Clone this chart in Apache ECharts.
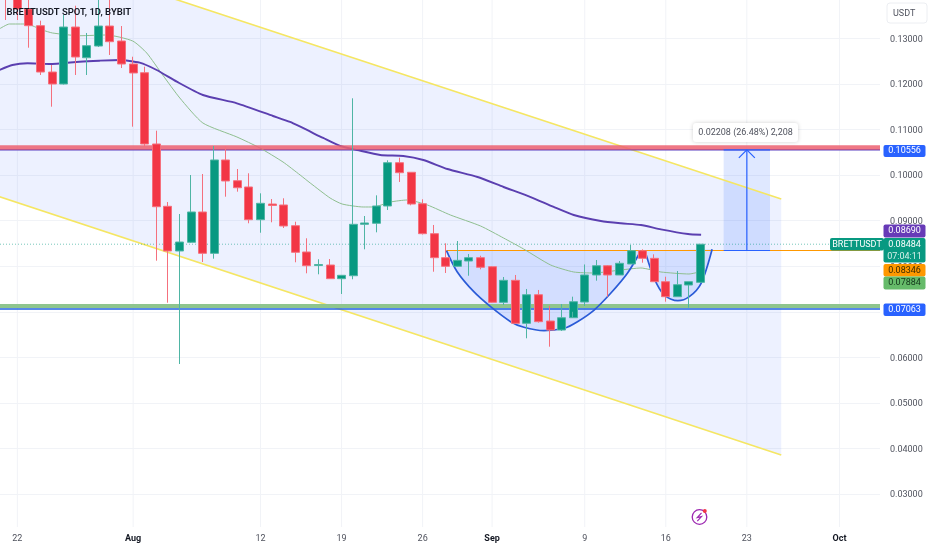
<!DOCTYPE html>
<html>
<head>
<meta charset="utf-8">
<style>html,body{margin:0;padding:0;background:#fff}#c{width:932px;height:550px}</style>
<script src="https://cdn.jsdelivr.net/npm/echarts@6/dist/echarts.min.js"></script>
</head>
<body>
<div id="c"></div>
<script>
// ---------- data ----------
const startDay = -11;            // day offset (Jul 21) relative to Aug 1
const dayCount = 76;             // Jul 21 .. Oct 4
const tickIndex = [1, 11, 22, 29, 36, 42, 50, 57, 64, 72];
const tickLabels = ['22', 'Aug', '12', '19', '26', 'Sep', '9', '16', '23', 'Oct'];
const monthLabels = ['Aug', 'Sep', 'Oct'];
const priceTicks = [0.03, 0.04, 0.05, 0.06, 0.07, 0.08, 0.09, 0.10, 0.11, 0.12, 0.13];

// [open, close, low, high], first entry is Jul 21
const candles = [
[.14284,.13955,.13406,.1435],[.13955,.13648,.13406,.1405],[.13648,.13281,.12798,.1389],
[.13281,.12264,.12199,.13391],[.12264,.12001,.11503,.12418],[.12001,.13252,.1199,.13516],
[.13252,.12594,.12199,.1372],[.12578,.12842,.12199,.13121],[.12835,.13274,.12813,.139],
[.13274,.1293,.12638,.1389],[.12945,.1244,.12352,.13274],[.1244,.12243,.11064,.126],
[.12249,.10684,.10618,.12381],[.10684,.09307,.08122,.10976],[.09316,.08335,.072,.0941],
[.08335,.08532,.05854,.09147],[.08526,.09191,.0851,.10003],[.09191,.08284,.08093,.10025],
[.08284,.10333,.08166,.1064],[.10333,.09872,.09527,.1064],[.09878,.09724,.09637,.10135],
[.0974,.09022,.08943,.10041],[.09022,.09382,.08736,.09601],[.09366,.09334,.08965,.09476],
[.09345,.08884,.0884,.09492],[.0889,.08306,.08087,.08978],[.08313,.08012,.07845,.08614],
[.08016,.08038,.07823,.08153],[.08027,.07727,.0772,.08159],[.07727,.07801,.07391,.07808],
[.07792,.08921,.07714,.11687],[.08921,.0895,.08372,.09103],[.08943,.09323,.08745,.09557],
[.09323,.10273,.09235,.10326],[.10273,.10054,.0985,.10383],[.10063,.09366,.09338,.10069],
[.09373,.08715,.08697,.0947],[.08715,.08188,.0788,.08906],[.08188,.07999,.07852,.08504],
[.07999,.0813,.0799,.08554],[.08115,.08188,.07792,.08269],[.08188,.07977,.07933,.08231],
[.0799,.07208,.07193,.08005],[.07208,.07691,.07149,.07764],[.07691,.06747,.06732,.07808],
[.06747,.07375,.06418,.07501],[.07375,.06783,.06761,.07479],[.06798,.066,.06234,.07134],
[.066,.0687,.06579,.07171],[.0687,.07222,.07,.07332],[.07215,.07808,.07127,.08039],
[.07808,.08012,.07683,.08137],[.08012,.07808,.07332,.08027],[.07808,.08065,.07808,.08115],
[.0805,.08341,.0805,.08466],[.08341,.08174,.08078,.08372],[.08174,.07661,.07654,.08262],
[.07661,.07332,.07222,.0777],[.07332,.07595,.07325,.07896],[.07588,.07661,.0709,.07661],
[.07647,.08484,.07632,.08484]
];

const slowMaDays = [-11.56,-10.43,-9.13,-7.23,-4.63,-2.9,-1.17,.56,2.03,3.77,6.02,8.96,12.08,13.55,16.41,17.88,19.35,21.34,23.33,25.06,27.14,29.74,31.99,34.33,36.32,38.05,40.39,42.12,43.85,45.58,47.92,49.05];
const slowMaValues = [.12308,.12418,.12455,.1244,.12491,.12513,.12528,.12469,.12308,.12052,.1176,.11577,.11299,.11167,.10816,.1064,.10552,.10442,.1042,.10333,.10135,.09959,.0974,.0952,.09301,.09125,.08993,.08943,.08906,.08811,.08708,.0869];
const fastMaDays = [-11.56,-10.69,-9.22,-7.84,-6.97,-4.63,-2.29,-.04,1.17,2.55,4.03,6.02,8.96,10.95,12.94,14.42,15.29,17.01,18.05,19.87,20.74,22.21,23.68,25.41,27.4,30,31.99,33.72,36.06,38.05,39.78,42.12,43.85,45.58,48,49.05];
const fastMaValues = [.13209,.13318,.13318,.13187,.13121,.13061,.13077,.12945,.12682,.12199,.11694,.11145,.10838,.10596,.10289,.10003,.09828,.09498,.09366,.09301,.09301,.0941,.09455,.09345,.09125,.08884,.0862,.08379,.08027,.07874,.07852,.07918,.07962,.07874,.0783,.07884];

const cupDays = [27.06,27.98,29.42,30.87,32.6,33.75,35.48,37.21,38.37,39.81,41.26,42.7,43.85];
const cupValues = [.08341,.0788,.07441,.07112,.06783,.0666,.06585,.06638,.06783,.07039,.07413,.07852,.08341];
const handleDays = [44.2,45,45.87,47.03,48.03,49.05,50];
const handleValues = [.08341,.07735,.07369,.07244,.07332,.07626,.08372];

const channelTopDays = [-11.56, 55.97];
const channelTopValues = [.15136, .09476];
const channelBottomDays = [-11.56, 55.97];
const channelBottomValues = [.09527, .03856];

const lastPrice = 0.08484;
const resistance = 0.10556;
const resistanceBand = 0.10607;
const support = 0.07063;
const supportBand = 0.07127;
const neckline = 0.08346;
const necklineStartDay = 27.06;
const measureStartDay = 51;
const measureEndDay = 55;
const measureArrowDay = 53;
const axisEndDay = 64.5;
const axisStartDay = -11.5;

const measureText = '0.02208 (26.48%) 2,208';
const chartTitle = 'BRETTUSDT SPOT, 1D, BYBIT';
const currencyText = 'USDT';
const symbolText = 'BRETTUSDT';
const countdownText = '07:04:11';

// ---------- drawing ----------
const FONT = 'Roboto';
const GREEN = '#089981', RED = '#f23645', BLUE = '#2962ff', YELLOW = '#f5e663', ORANGE = '#ff9800';
const PURPLE = '#5b3fb0';

const cats = [];
for (let i = 0; i < dayCount; i++) cats.push(String(i + startDay));

function line(xs, ys, color, width, z, extra) {
  return Object.assign({
    type: 'line', xAxisIndex: 1, yAxisIndex: 0, data: xs.map((x, i) => [x, ys[i]]),
    showSymbol: false, symbol: 'none', silent: true, animation: false, z: z,
    lineStyle: { color: color, width: width }
  }, extra || {});
}
function poly(xs, ys, fill, z) {
  return {
    type: 'custom', xAxisIndex: 1, yAxisIndex: 0, data: [[xs[0], ys[0]]], z: z, silent: true,
    animation: false, clip: true,
    renderItem: (p, api) => ({
      type: 'polygon',
      shape: { points: xs.map((x, i) => api.coord([x, ys[i]])) },
      style: { fill: fill }
    })
  };
}

const series = [
  // vertical grid lines at labelled days
  {
    type: 'custom', xAxisIndex: 1, yAxisIndex: 0, z: 0, silent: true, animation: false,
    data: tickIndex.map(i => [i + startDay, 0]),
    renderItem: (p, api) => {
      const a = api.coord([api.value(0), 0.14]), b = api.coord([api.value(0), 0.02]);
      return { type: 'line', shape: { x1: a[0], y1: a[1], x2: b[0], y2: b[1] }, style: { stroke: '#f1f3f7', lineWidth: 1 } };
    }
  },
  poly(channelTopDays.concat(channelBottomDays.slice().reverse()),
       channelTopValues.concat(channelBottomValues.slice().reverse()), 'rgba(41,98,255,0.085)', 1),
  poly(cupDays, cupValues, 'rgba(41,98,255,0.13)', 2),
  poly(handleDays, handleValues, 'rgba(41,98,255,0.13)', 2),
  poly([measureStartDay, measureEndDay, measureEndDay, measureStartDay],
       [neckline, neckline, resistance, resistance], 'rgba(41,98,255,0.15)', 2),
  line(channelTopDays, channelTopValues, YELLOW, 1.6, 3),
  line(channelBottomDays, channelBottomValues, YELLOW, 1.6, 3),
  line([axisStartDay, axisEndDay], [lastPrice, lastPrice], 'rgba(8,153,129,0.65)', 1, 3, { lineStyle: { color: 'rgba(8,153,129,0.55)', width: 1, type: [1, 2] } }),
  line([necklineStartDay, axisEndDay], [neckline, neckline], ORANGE, 1.2, 3),
  line(fastMaDays, fastMaValues, '#8fbf8f', 1, 4, { smooth: 0.2 }),
  line(slowMaDays, slowMaValues, PURPLE, 1.9, 4, { smooth: 0.2 }),
  line([axisStartDay, axisEndDay], [supportBand, supportBand], '#8ec58e', 4, 3),
  line([axisStartDay, axisEndDay], [support, support], '#1f62e0', 1.5, 4),
  line([axisStartDay, axisEndDay], [resistance, resistance], '#5a3fc0', 1.5, 3),
  line([axisStartDay, axisEndDay], [resistanceBand, resistanceBand], 'rgba(236,96,112,0.85)', 4.5, 4),
  line(cupDays, cupValues, '#2a5bd7', 1.7, 4, { smooth: 0.3 }),
  line(handleDays, handleValues, '#2a5bd7', 1.7, 4, { smooth: 0.3 }),
  {
    type: 'candlestick', xAxisIndex: 0, yAxisIndex: 0, data: candles, barWidth: 8.5, z: 5, silent: true, animation: false,
    itemStyle: { color: GREEN, color0: RED, borderColor: '#4fb5a4', borderColor0: '#f5707d', borderWidth: 1 }
  },
  // measure tool: base, top and arrow
  {
    type: 'custom', xAxisIndex: 1, yAxisIndex: 0, z: 6, silent: true, animation: false, data: [[measureArrowDay, neckline]],
    renderItem: (p, api) => {
      const l0 = api.coord([measureStartDay, neckline]), r0 = api.coord([measureEndDay, neckline]);
      const l1 = api.coord([measureStartDay, resistance]), r1 = api.coord([measureEndDay, resistance]);
      const a0 = api.coord([measureArrowDay, neckline]), a1 = api.coord([measureArrowDay, resistance]);
      const st = { stroke: BLUE, lineWidth: 1.2, fill: null };
      return {
        type: 'group', children: [
          { type: 'line', shape: { x1: l0[0], y1: l0[1], x2: r0[0], y2: r0[1] }, style: st },
          { type: 'line', shape: { x1: l1[0], y1: l1[1], x2: r1[0], y2: r1[1] }, style: st },
          { type: 'line', shape: { x1: a0[0], y1: a0[1], x2: a1[0], y2: a1[1] }, style: st },
          { type: 'polyline', shape: { points: [[a1[0] - 8, a1[1] + 8], a1, [a1[0] + 8, a1[1] + 8]] }, style: st }
        ]
      };
    }
  }
];

function tag(text, x, y, w, h, bg, fg, size) {
  return {
    type: 'group', z: 30, children: [
      { type: 'rect', z: 30, shape: { x: x, y: y, width: w, height: h, r: 2 }, style: { fill: bg } },
      { type: 'text', z: 31, x: x + w / 2, y: y + h / 2, style: { text: text, fill: fg, font: (size || 9) + 'px ' + FONT, align: 'center', verticalAlign: 'middle' } }
    ]
  };
}

const graphics = [
  { type: 'rect', z: 1, shape: { x: 0, y: 527, width: 932, height: 23 }, style: { fill: '#fff' } },
  tag(resistance.toFixed(5), 883.5, 145, 42, 12, BLUE, '#fff'),
  tag((0.0869).toFixed(5), 883.5, 224.5, 42, 13, '#673ab7', '#fff'),
  tag(symbolText, 830, 238, 54, 12.5, GREEN, '#fff'),
  { type: 'rect', z: 30, shape: { x: 883.5, y: 238, width: 42, height: 24.5, r: 2 }, style: { fill: GREEN } },
  { type: 'text', z: 31, x: 904.5, y: 245, style: { text: lastPrice.toFixed(5), fill: '#fff', font: '9px ' + FONT, align: 'center', verticalAlign: 'middle' } },
  { type: 'text', z: 31, x: 904.5, y: 256.5, style: { text: countdownText, fill: '#d6f0ea', font: '9px ' + FONT, align: 'center', verticalAlign: 'middle' } },
  tag(neckline.toFixed(5), 883.5, 264, 42, 12.5, ORANGE, '#3a2a00'),
  tag((0.07884).toFixed(5), 883.5, 276.5, 42, 13, '#66bb6a', '#12361a'),
  tag(support.toFixed(5), 883.5, 303.5, 42, 12.5, BLUE, '#fff'),
  // measure caption
  { type: 'rect', z: 30, shape: { x: 693, y: 123, width: 105, height: 19, r: 3 }, style: { fill: '#fff', shadowBlur: 4, shadowColor: 'rgba(0,0,0,0.18)' } },
  { type: 'text', z: 31, x: 745.5, y: 132.7, style: { text: measureText, fill: '#50535e', font: '9px ' + FONT, align: 'center', verticalAlign: 'middle' } },
  // currency button
  { type: 'rect', z: 30, shape: { x: 887, y: 3, width: 40, height: 20, r: 3 }, style: { fill: '#fff', stroke: '#eceef2', lineWidth: 1 } },
  { type: 'text', z: 31, x: 893, y: 13.5, style: { text: currencyText, fill: '#50535e', font: '9px ' + FONT, align: 'left', verticalAlign: 'middle' } },
  // flash icon
  { type: 'circle', z: 30, shape: { cx: 699.5, cy: 517, r: 7.3 }, style: { fill: '#fff', stroke: '#9c27b0', lineWidth: 1.3 } },
  { type: 'polyline', z: 31, shape: { points: [[701.5, 512.8], [697.3, 517.6], [701.5, 516.6], [697.3, 521.2]] }, style: { fill: null, stroke: '#9c27b0', lineWidth: 1.2 } },
  { type: 'circle', z: 32, shape: { cx: 704.8, cy: 511, r: 2 }, style: { fill: '#f23645' } }
];

const chart = echarts.init(document.getElementById('c'), null, { renderer: 'canvas' });
chart.setOption({
  animation: false,
  backgroundColor: '#fff',
  title: { text: chartTitle, left: 6.5, top: 7.5, padding: 0, z: 20, textStyle: { fontFamily: FONT, fontSize: 9.5, fontWeight: 600, color: '#131722' } },
  grid: { left: 0, right: 52, top: -7.05, height: 546.6, containLabel: false, outerBoundsMode: 'none' },
  xAxis: [
    {
      type: 'category', data: cats, boundaryGap: true, z: 5, offset: 0,
      axisLine: { show: false }, axisTick: { show: false }, splitLine: { show: false },
      axisLabel: {
        margin: -5, color: '#50535e', fontFamily: FONT, fontSize: 9, hideOverlap: false,
        interval: (i) => tickIndex.includes(i),
        formatter: (v, i) => {
          const t = tickLabels[tickIndex.indexOf(i)];
          return monthLabels.includes(t) ? '{b|' + t + '}' : t;
        },
        rich: { b: { fontFamily: FONT, fontSize: 9, fontWeight: 'bold', color: '#131722' } }
      }
    },
    { type: 'value', show: false, min: axisStartDay, max: axisEndDay, splitLine: { show: false } }
  ],
  yAxis: [{
    type: 'value', position: 'right', min: 0.02, max: 0.14, interval: 0.01, scale: true,
    axisLine: { show: false }, axisTick: { show: false },
    splitLine: { show: true, lineStyle: { color: '#f1f3f7', width: 1 } },
    axisLabel: {
      inside: false, margin: 10, color: '#50535e', fontFamily: FONT, fontSize: 9, lineHeight: 11,
      formatter: (v) => priceTicks.some(t => Math.abs(t - v) < 1e-6) ? '{a|' + v.toFixed(5) + '}' : '',
      rich: { a: { fontFamily: FONT, fontSize: 9, color: '#50535e', padding: [2, 0, 0, 0] } }
    }
  }],
  series: series,
  graphic: graphics
});
</script>
</body>
</html>
